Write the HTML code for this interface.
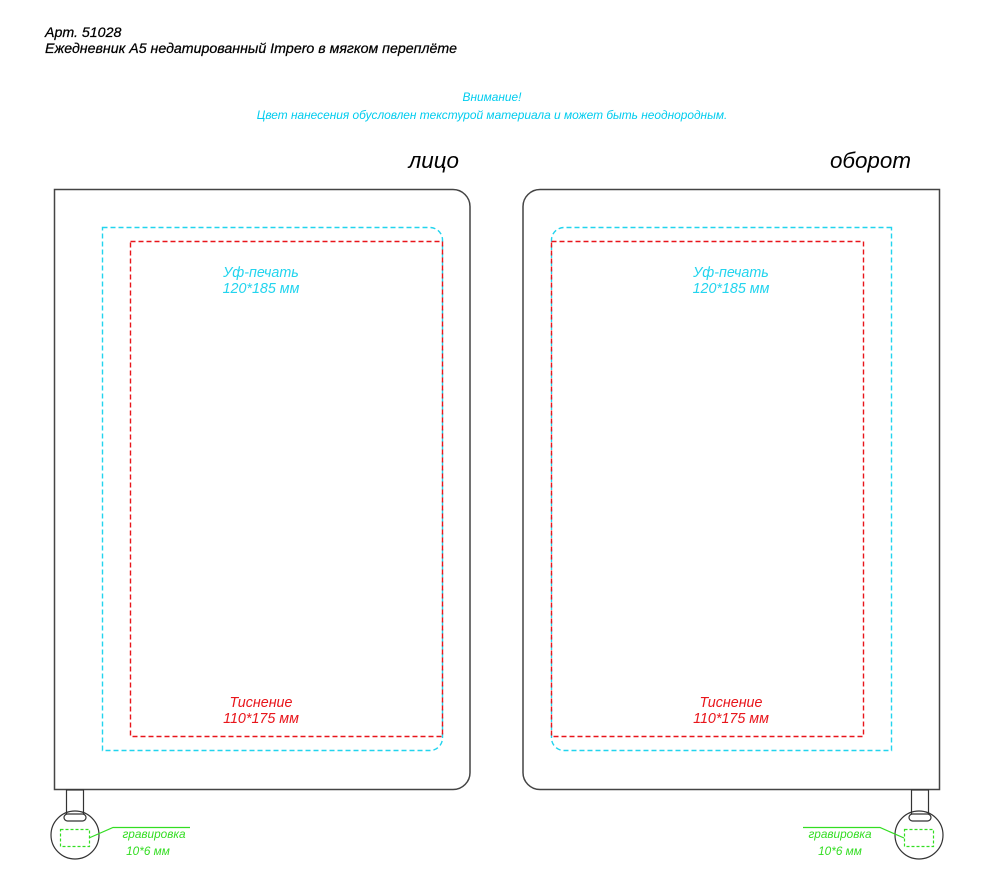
<!DOCTYPE html>
<html><head><meta charset="utf-8"><style>
html,body{margin:0;padding:0;background:#fff;}
svg{display:block;}
text{font-family:"Liberation Sans",sans-serif;font-style:italic;}
</style></head><body>
<svg width="984" height="884" viewBox="0 0 984 884" xmlns="http://www.w3.org/2000/svg">
<text x="45" y="37" font-size="14.2" fill="#000" stroke="#000" stroke-width="0.25">Арт. 51028</text>
<text x="45" y="53" font-size="14.2" fill="#000" stroke="#000" stroke-width="0.25">Ежедневник А5 недатированный Impero в мягком переплёте</text>
<text x="492" y="101" font-size="11.9" fill="#00ccee" text-anchor="middle">Внимание!</text>
<text x="492" y="119" font-size="11.9" fill="#00ccee" text-anchor="middle">Цвет нанесения обусловлен текстурой материала и может быть неоднородным.</text>
<text x="459" y="168" font-size="22.4" fill="#000" text-anchor="end">лицо</text>
<text x="911" y="168" font-size="22.4" fill="#000" text-anchor="end">оборот</text>

<!-- left book -->
<path d="M54.5 189.5 H453 A17 17 0 0 1 470 206.5 V772 A17 17 0 0 1 453 789.5 H54.5 Z" fill="none" stroke="#444" stroke-width="1.5"/>
<path d="M102.5 227.5 H430 A12.5 12.5 0 0 1 442.5 240 V738 A12.5 12.5 0 0 1 430 750.5 H102.5 Z" fill="none" stroke="#22d4ee" stroke-width="1.4" stroke-dasharray="5,3"/>
<rect x="130.5" y="241.5" width="312" height="495" fill="none" stroke="#e8151b" stroke-width="1.4" stroke-dasharray="5,3"/>
<text x="261" y="277" font-size="14.3" fill="#22d4ee" text-anchor="middle">Уф-печать</text>
<text x="261" y="293" font-size="14.3" fill="#22d4ee" text-anchor="middle">120*185 мм</text>
<text x="261" y="707" font-size="14.3" fill="#e8151b" text-anchor="middle">Тиснение</text>
<text x="261" y="723" font-size="14.3" fill="#e8151b" text-anchor="middle">110*175 мм</text>

<!-- right book -->
<path d="M939.5 189.5 H540 A17 17 0 0 0 523 206.5 V772 A17 17 0 0 0 540 789.5 H939.5 Z" fill="none" stroke="#444" stroke-width="1.5"/>
<path d="M891.5 227.5 H564 A12.5 12.5 0 0 0 551.5 240 V738 A12.5 12.5 0 0 0 564 750.5 H891.5 Z" fill="none" stroke="#22d4ee" stroke-width="1.4" stroke-dasharray="5,3"/>
<rect x="551.5" y="241.5" width="312" height="495" fill="none" stroke="#e8151b" stroke-width="1.4" stroke-dasharray="5,3"/>
<text x="731" y="277" font-size="14.3" fill="#22d4ee" text-anchor="middle">Уф-печать</text>
<text x="731" y="293" font-size="14.3" fill="#22d4ee" text-anchor="middle">120*185 мм</text>
<text x="731" y="707" font-size="14.3" fill="#e8151b" text-anchor="middle">Тиснение</text>
<text x="731" y="723" font-size="14.3" fill="#e8151b" text-anchor="middle">110*175 мм</text>

<!-- left tag -->
<rect x="66.5" y="790" width="17" height="27" fill="#fff" stroke="#333" stroke-width="1.2"/>
<circle cx="75" cy="835" r="24" fill="none" stroke="#333" stroke-width="1.2"/>
<rect x="64" y="814" width="22" height="7" rx="3.5" fill="#fff" stroke="#333" stroke-width="1.2"/>
<rect x="60.5" y="829.5" width="29" height="17" fill="none" stroke="#33dd22" stroke-width="1.2" stroke-dasharray="3,2"/>
<polyline points="89,838 113,827.5 190,827.5" fill="none" stroke="#33dd22" stroke-width="1.2"/>
<text x="154" y="838" font-size="11.8" fill="#33dd22" text-anchor="middle">гравировка</text>
<text x="148" y="855" font-size="11.8" fill="#33dd22" text-anchor="middle">10*6 мм</text>

<!-- right tag -->
<rect x="911.5" y="790" width="17" height="27" fill="#fff" stroke="#333" stroke-width="1.2"/>
<circle cx="919" cy="835" r="24" fill="none" stroke="#333" stroke-width="1.2"/>
<rect x="909" y="814" width="22" height="7" rx="3.5" fill="#fff" stroke="#333" stroke-width="1.2"/>
<rect x="904.5" y="829.5" width="29" height="17" fill="none" stroke="#33dd22" stroke-width="1.2" stroke-dasharray="3,2"/>
<polyline points="803,827.5 880,827.5 904,838" fill="none" stroke="#33dd22" stroke-width="1.2"/>
<text x="840" y="838" font-size="11.8" fill="#33dd22" text-anchor="middle">гравировка</text>
<text x="840" y="855" font-size="11.8" fill="#33dd22" text-anchor="middle">10*6 мм</text>
</svg>
</body></html>
